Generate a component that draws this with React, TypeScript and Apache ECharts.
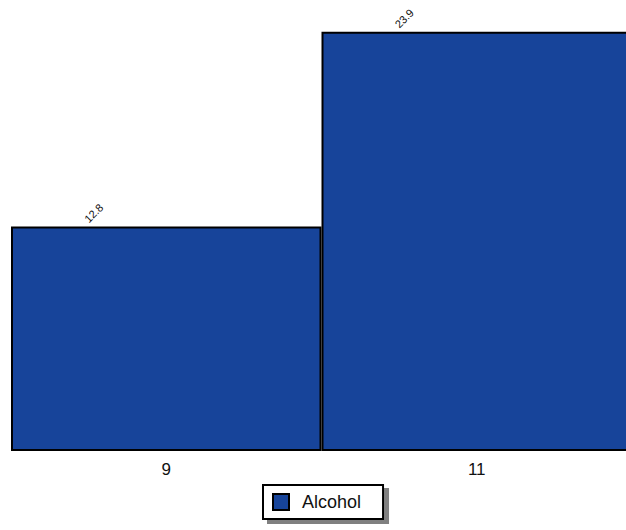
import React, { useEffect, useRef } from "react";
import * as echarts from "echarts";

const categories = ["9", "11"];
const alcohol = [12.8, 23.9];
const seriesName = "Alcohol";

export default function App() {
  const ref = useRef<HTMLDivElement>(null);
  useEffect(() => {
    if (!ref.current) return;
    const chart = echarts.init(ref.current, null, { renderer: "svg" });
    chart.setOption({
      animation: false,
      textStyle: { fontFamily: "Liberation Sans, Arial, sans-serif" },
      grid: { left: 11, right: 0, top: 12.5, bottom: 79 },
      xAxis: {
        type: "category",
        data: categories,
        axisLine: { show: false },
        axisTick: { show: false },
        axisLabel: { color: "#111", fontSize: 17, margin: 10 },
      },
      yAxis: {
        type: "value",
        min: 0,
        max: 25,
        show: false,
        splitLine: { show: false },
      },
      legend: {
        data: [seriesName],
        left: 263,
        top: 485,
        icon: "rect",
        padding: [8, 22, 8, 9],
        itemWidth: 16,
        itemHeight: 16,
        itemGap: 8,
        backgroundColor: "#fff",
        borderColor: "#000",
        borderWidth: 2,
        borderRadius: 0,
        shadowColor: "#808080",
        shadowBlur: 0,
        shadowOffsetX: 5,
        shadowOffsetY: 4,
        textStyle: { fontSize: 18, color: "#111", padding: [0, 0, 0, 8] },
        itemStyle: { borderColor: "#000", borderWidth: 2 },
      },
      series: [
        {
          name: seriesName,
          type: "bar",
          data: alcohol,
          barCategoryGap: "0%",
          itemStyle: { color: "#17449a", borderColor: "#000", borderWidth: 2 },
          label: {
            show: true,
            position: [79, -2],
            rotate: 45,
            align: "left",
            verticalAlign: "bottom",
            fontSize: 11,
            color: "#111",
          },
        },
      ],
    });
    return () => chart.dispose();
  }, []);
  return (
    <div style={{ width: 626, height: 530, position: "absolute", left: 0, top: 0, overflow: "hidden" }}>
      <div ref={ref} style={{ width: 632, height: 530 }} />
    </div>
  );
}
